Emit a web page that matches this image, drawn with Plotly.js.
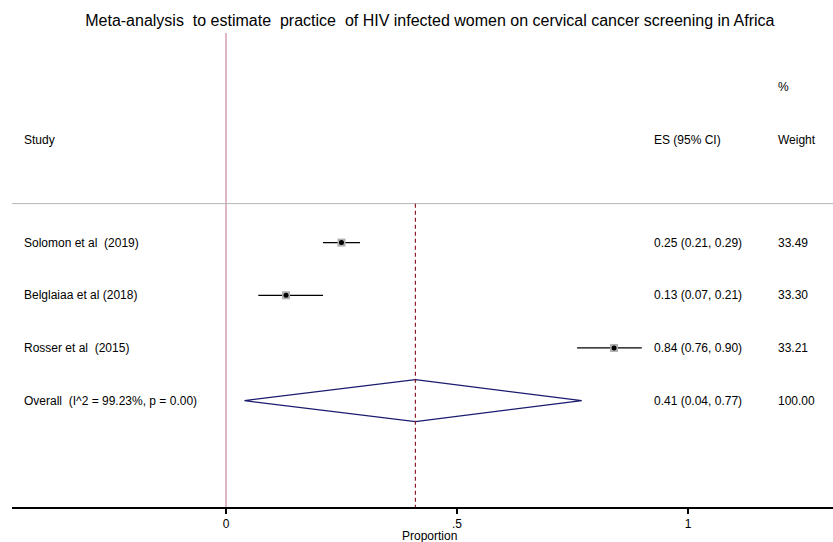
<!DOCTYPE html>
<html>
<head>
<meta charset="utf-8">
<script src="https://cdn.plot.ly/plotly-3.0.1.min.js"></script>
<style>html,body{margin:0;padding:0;background:#fff;}#chart{width:833px;height:542px;}</style>
</head>
<body>
<div id="chart"></div>
<script>
// Data
const studies = ["Solomon et al  (2019)", "Belglaiaa et al (2018)", "Rosser et al  (2015)"];
const es = [0.25, 0.13, 0.84];
const lo = [0.21, 0.07, 0.76];
const hi = [0.29, 0.21, 0.90];
const weights = ["33.49", "33.30", "33.21"];
const overallLabel = "Overall  (I^2 = 99.23%, p = 0.00)";
const overallES = 0.41;
const overallLo = 0.04;
const overallHi = 0.77;
const overallWeight = "100.00";
const tickVals = [0, 0.5, 1];
const tickText = ["0", ".5", "1"];

// rows: studies at 4,3,2 ; overall at 1
const rowY = studies.map((_, i) => studies.length + 1 - i);
const overallY = 1;

const ciX = [], ciY = [];
for (let i = 0; i < studies.length; i++) {
  ciX.push(lo[i], hi[i], null);
  ciY.push(rowY[i], rowY[i], null);
}
const dh = 0.4;
const traces = [
  {x: ciX, y: ciY, mode: 'lines', line: {color: '#000', width: 1.2}, hoverinfo: 'skip', showlegend: false},
  {x: es, y: rowY, mode: 'markers', marker: {symbol: 'square', size: 8, color: '#b0b0b0', line: {width: 0}}, showlegend: false},
  {x: es, y: rowY, mode: 'markers', marker: {symbol: 'circle', size: 5, color: '#000'}, showlegend: false},
  {x: [overallLo, overallES, overallHi, overallES, overallLo],
   y: [overallY, overallY + dh, overallY, overallY - dh, overallY],
   mode: 'lines', line: {color: '#1a1a6e', width: 1.2}, showlegend: false}
];

const FAM = 'Liberation Sans, Arial, sans-serif';
const fnt = {family: FAM, size: 12, color: '#000'};
const ann = [];
const xLeft = 0.0122, xES = 0.780, xW = 0.931;
function addText(x, y, t) {
  ann.push({xref: 'paper', yref: 'y', x: x, y: y, text: t, showarrow: false, xanchor: 'left', yanchor: 'middle', font: fnt});
}
addText(xLeft, 5.95, "Study");
addText(xES, 5.95, "ES (95% CI)");
addText(xW, 5.95, "Weight");
addText(xW, 6.95, "%");
for (let i = 0; i < studies.length; i++) {
  addText(xLeft, rowY[i], studies[i]);
  addText(xES, rowY[i], es[i].toFixed(2) + " (" + lo[i].toFixed(2) + ", " + hi[i].toFixed(2) + ")");
  addText(xW, rowY[i], weights[i]);
}
addText(xLeft, overallY, overallLabel);
addText(xES, overallY, overallES.toFixed(2) + " (" + overallLo.toFixed(2) + ", " + overallHi.toFixed(2) + ")");
addText(xW, overallY, overallWeight);
// axis title
ann.push({xref: 'paper', yref: 'paper', x: 0.509, y: 0, yshift: -29, text: 'Proportion', showarrow: false,
          xanchor: 'center', yanchor: 'middle', font: fnt});

const layout = {
  width: 833, height: 542,
  margin: {l: 12, r: 0, t: 33, b: 35},
  paper_bgcolor: '#fff', plot_bgcolor: '#fff',
  title: {text: "Meta-analysis  to estimate  practice  of HIV infected women on cervical cancer screening in Africa",
          font: {family: FAM, size: 16, color: '#000'},
          x: 0.516, xanchor: 'center', y: 0.962, yanchor: 'middle'},
  xaxis: {range: [-0.4632, 1.3139], tickvals: tickVals, ticktext: tickText,
          showline: true, linecolor: '#000', linewidth: 1.5, ticks: 'outside', ticklen: 5, tickcolor: '#000', tickwidth: 1.2,
          zeroline: false, showgrid: false, tickfont: {family: FAM, size: 12, color: '#000'},
          fixedrange: true},
  yaxis: {range: [-1.02, 7.98], visible: false, fixedrange: true},
  shapes: [
    {type: 'line', xref: 'x', yref: 'paper', x0: 0, x1: 0, y0: 0, y1: 1, line: {color: '#c0708c', width: 1}},
    {type: 'line', xref: 'paper', yref: 'y', x0: 0, x1: 1, y0: 4.74, y1: 4.74, line: {color: '#b4b4b4', width: 1}},
    {type: 'line', xref: 'x', yref: 'y', x0: overallES, x1: overallES, y0: 4.74, y1: -1.02, line: {color: '#8b1a2a', width: 1.2, dash: '4px,3px'}}
  ],
  annotations: ann,
  showlegend: false
};
Plotly.newPlot('chart', traces, layout, {displayModeBar: false, staticPlot: true});
</script>
</body>
</html>
